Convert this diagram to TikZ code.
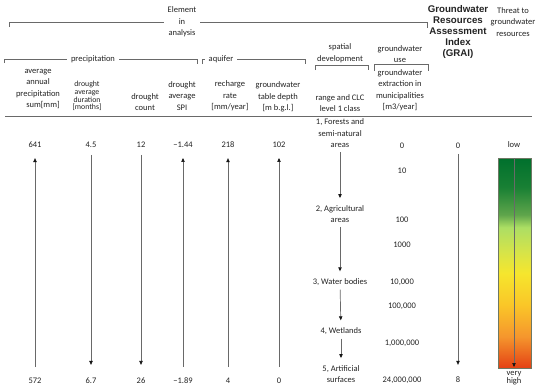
\documentclass[tikz,border=0pt]{standalone}
\usepackage{fontspec}
\setmainfont{Carlito}
\newfontfamily\headfont{Liberation Sans}
\usetikzlibrary{arrows.meta}
\definecolor{inkText}{RGB}{35, 35, 35}
\definecolor{ruleGray}{RGB}{105, 105, 105}
\definecolor{tipBlack}{RGB}{20, 20, 20}
\definecolor{barEdge}{RGB}{110, 120, 100}
\definecolor{gradDark}{RGB}{0, 112, 45}
\definecolor{gradGreen}{RGB}{25, 128, 52}
\definecolor{gradMid}{RGB}{95, 165, 75}
\definecolor{gradLight}{RGB}{172, 222, 100}
\definecolor{gradLime}{RGB}{215, 228, 72}
\definecolor{gradYellow}{RGB}{246, 230, 45}
\definecolor{gradAmber}{RGB}{250, 198, 40}
\definecolor{gradOrange}{RGB}{245, 150, 45}
\definecolor{gradRed}{RGB}{228, 65, 20}
\pgfdeclareverticalshading{threatscale}{100bp}{color(0bp)=(gradRed); color(25bp)=(gradRed);
  color(32.5bp)=(gradOrange); color(40bp)=(gradAmber); color(47.5bp)=(gradYellow);
  color(52.5bp)=(gradLime); color(58.5bp)=(gradLight); color(61.5bp)=(gradMid);
  color(68bp)=(gradGreen); color(75bp)=(gradDark); color(100bp)=(gradDark)}
\tikzset{
  cell/.style={text=inkText, font=\fontsize{8.5pt}{11.5pt}\selectfont, align=center, inner sep=1pt},
  tinycell/.style={cell, font=\fontsize{7.8pt}{7.8pt}\selectfont},
  bracketlabel/.style={inner xsep=4pt},
  graititle/.style={text=inkText, font=\headfont\bfseries\fontsize{9.7pt}{11pt}\selectfont, align=center, inner sep=1pt},
  bracket/.style={draw=ruleGray, line width=0.6pt},
  trend/.style={draw=ruleGray, line width=0.7pt, -{Triangle[length=4pt, width=3.4pt, color=tipBlack]}},
  uptrend/.style={trend, shorten <=10pt, shorten >=9pt},
  downtrend/.style={trend, shorten <=6pt, shorten >=12pt},
  steptrend/.style={trend, shorten <=3pt, shorten >=6pt}
}

\begin{document}
\begin{tikzpicture}[x=1pt, y=-1pt]
\useasboundingbox (0,0) rectangle (550,391);

% group headings
\node[cell, bracketlabel] (elem) at (182,22) {Element\\in\\analysis};
\node[graititle] (grai) at (458,32) {Groundwater\\Resources\\Assessment\\Index\\(GRAI)};
\node[cell] (threat) at (513,22) {Threat to\\groundwater\\resources};
\node[cell, bracketlabel] (precip) at (93,59) {precipitation};
\node[cell, bracketlabel] (aquifer) at (221,59) {aquifer};
\node[cell] (spatial) at (340,53) {spatial\\development};
\node[cell] (gwuse) at (400,54) {groundwater\\use};

% brackets
\coordinate (elemL) at (9,27);
\coordinate (elemR) at (427,28);
\draw[bracket] (elemL) |- (elem.west);
\draw[bracket] (elem.east) -| (elemR);
\coordinate (precL) at (4,63);
\coordinate (precR) at (197,64);
\draw[bracket] (precL) |- (precip.west);
\draw[bracket] (precip.east) -| (precR);
\coordinate (aqL) at (202,64);
\coordinate (aqR) at (305,64);
\draw[bracket] (aqL) |- (aquifer.west);
\draw[bracket] (aquifer.east) -| (aqR);
\coordinate (spL) at (315,70);
\coordinate (spR) at (368,70);
\draw[bracket] (spL) -- ++(0,-5) -| (spR);
\coordinate (useL) at (374,71);
\coordinate (useR) at (428,71);
\draw[bracket] (useL) -- ++(0,-7) -| (useR);

% column headers
\node[cell] (hAnnual) at (38,89) {average\\annual\\precipitation\\\hspace*{10pt}sum[mm]};
\node[tinycell] (hDuration) at (87,96) {drought\\average\\duration\\{}[months]};
\node[cell] (hCount) at (145,102) {drought\\count};
\node[cell] (hSpi) at (182,96) {drought\\average\\SPI};
\node[cell] (hRecharge) at (230,96) {recharge\\rate\\{}[mm/year]};
\node[cell] (hDepth) at (278,97) {groundwater\\table depth\\{}[m b.g.l.]};
\node[cell] (hClc) at (340,103) {range and CLC\\level 1 class};
\node[cell] (hExtract) at (400,90) {groundwater\\extraction in\\municipalities\\{}[m3/year]};
\coordinate (ruleL) at (5,116);
\coordinate (ruleR) at (532,116);
\draw[bracket] (ruleL) -- (ruleR);

% best values
\node[cell] (tAnnual) at (35,145) {641};
\node[cell] (tDuration) at (91,145) {4.5};
\node[cell] (tCount) at (141,145) {12};
\node[cell] (tSpi) at (183,145) {−1.44};
\node[cell] (tRecharge) at (228,145) {218};
\node[cell] (tDepth) at (279,145) {102};

% worst values
\node[cell] (bAnnual) at (35,381) {572};
\node[cell] (bDuration) at (91,381) {6.7};
\node[cell] (bCount) at (141,381) {26};
\node[cell] (bSpi) at (183,381) {−1.89};
\node[cell] (bRecharge) at (228,381) {4};
\node[cell] (bDepth) at (279,381) {0};

\draw[uptrend] (bAnnual) -- (tAnnual);
\draw[downtrend] (tDuration) -- (bDuration);
\draw[downtrend] (tCount) -- (bCount);
\draw[uptrend] (bSpi) -- (tSpi);
\draw[uptrend] (bRecharge) -- (tRecharge);
\draw[uptrend] (bDepth) -- (tDepth);

% land cover classes
\node[cell] (clc1) at (340,133.5) {1, Forests and\\semi-natural\\areas};
\node[cell] (clc2) at (340,214) {2, Agricultural\\areas};
\node[cell] (clc3) at (340,282) {3, Water bodies};
\node[cell] (clc4) at (341,331) {4, Wetlands};
\node[cell] (clc5) at (341,374) {5, Artificial\\surfaces};
\draw[steptrend] (clc1) -- (clc2);
\draw[steptrend] (clc2) -- (clc3);
\draw[steptrend] (clc3) -- (clc4);
\draw[steptrend] (clc4) -- (clc5);

% extraction scale
\node[cell] (use0) at (402,146) {0};
\node[cell] (use1) at (402,171) {10};
\node[cell] (use2) at (402,220) {100};
\node[cell] (use3) at (402,245) {1000};
\node[cell] (use4) at (402,282) {10,000};
\node[cell] (use5) at (402,306) {100,000};
\node[cell] (use6) at (402,343) {1,000,000};
\node[cell] (use7) at (402,380) {24,000,000};

% index
\node[cell] (graiLow) at (458,146) {0};
\node[cell] (graiHigh) at (458,380) {8};
\draw[trend, shorten <=4pt, shorten >=11pt] (graiLow) -- (graiHigh);

% threat bar
\node[cell] (low) at (514,145) {low};
\node[cell, font=\fontsize{8.5pt}{8pt}\selectfont] (high) at (514,378.5) {very\\high};
\shade[shading=threatscale, draw=barEdge, line width=0.5pt] (498,158) rectangle (531,368);
\coordinate (barTop) at (514,158);
\coordinate (barBot) at (514,368);
\draw[trend, shorten >=1pt] (barTop) -- (barBot);
\end{tikzpicture}
\end{document}
